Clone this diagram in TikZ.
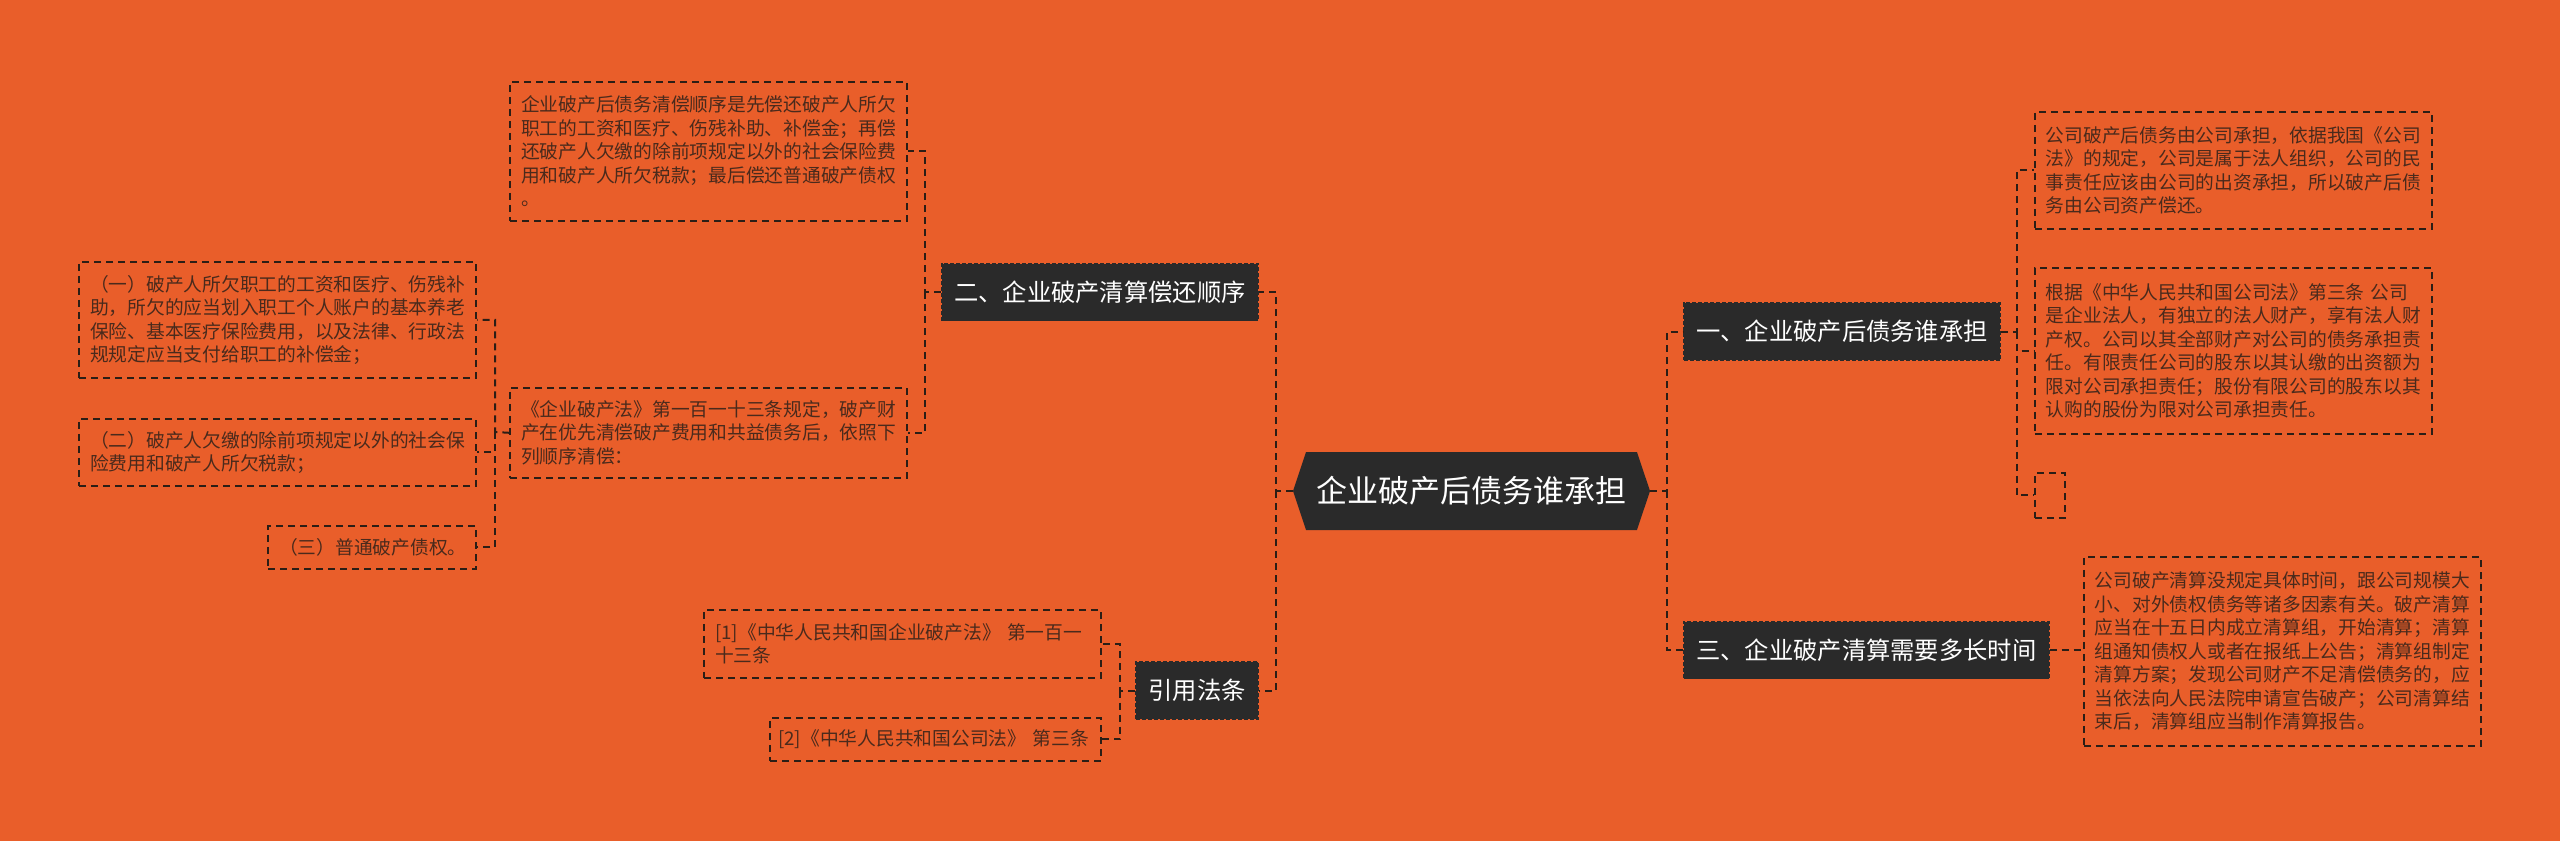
\documentclass[tikz,border=0pt]{standalone}
\usepackage{fontspec}
\setmainfont{Noto Sans CJK SC}
\usetikzlibrary{shapes.symbols}
\definecolor{canvas}{HTML}{E95E2A}
\definecolor{topicdark}{HTML}{2A2A2A}
\definecolor{leafink}{HTML}{4A2A1C}
\definecolor{linkdark}{HTML}{2B1E16}

\tikzset{
  root/.style={shape=signal, signal to=west and east, signal pointer angle=143,
    fill=topicdark, text=white, font=\fontsize{31}{37}\selectfont,
    minimum width=357pt, minimum height=78pt, inner sep=0pt},
  topic/.style={fill=topicdark, draw=topicdark, line width=1.5pt, dash pattern=on 4pt off 2pt,
    text=white, font=\fontsize{24.3}{29}\selectfont,
    inner xsep=12.5pt, inner ysep=0pt, minimum height=57pt},
  leaf/.style={draw=linkdark, line width=1.6pt, dash pattern=on 7pt off 5pt,
    text=leafink, font=\fontsize{18.75}{23.5}\selectfont,
    inner xsep=11pt, inner ysep=0pt, text width=375pt, align=left},
  link/.style={draw=linkdark, line width=2pt, dash pattern=on 7pt off 5pt},
}

\begin{document}
\begin{tikzpicture}[x=1pt, y=-1pt]
    % Canvas
    \fill[canvas] (0,0) rectangle (2560,841);
    \useasboundingbox (0,0) rectangle (2560,841);

    % Root
    \node[root] (root) at (1471.5,491) {企业破产后债务谁承担};

    % Main topics
    \node[topic, anchor=west] (n1) at (1683,331.5) {一、企业破产后债务谁承担};
    \node[topic, anchor=east] (n2) at (1259,292) {二、企业破产清算偿还顺序};
    \node[topic, anchor=west] (n3) at (1683,650) {三、企业破产清算需要多长时间};
    \node[topic, anchor=east] (n4) at (1259,690.5) {引用法条};

    % Leaves of topic one
    \node[leaf, anchor=north west, minimum height=117pt] (a1) at (2034,111)
      {公司破产后债务由公司承担，依据我国《公司\\法》的规定，公司是属于法人组织，公司的民\\事责任应该由公司的出资承担，所以破产后债\\务由公司资产偿还。};
    \node[leaf, anchor=north west, minimum height=166pt] (a2) at (2034,267)
      {根据《中华人民共和国公司法》第三条 公司\\是企业法人，有独立的法人财产，享有法人财\\产权。公司以其全部财产对公司的债务承担责\\任。有限责任公司的股东以其认缴的出资额为\\限对公司承担责任；股份有限公司的股东以其\\认购的股份为限对公司承担责任。};
    \node[leaf, anchor=north west, text width=8pt, minimum height=45pt] (a3) at (2034,472) {};

    % Leaf of topic three
    \node[leaf, anchor=north west, minimum height=189pt] (c1) at (2083,556)
      {公司破产清算没规定具体时间，跟公司规模大\\小、对外债权债务等诸多因素有关。破产清算\\应当在十五日内成立清算组，开始清算；清算\\组通知债权人或者在报纸上公告；清算组制定\\清算方案；发现公司财产不足清偿债务的，应\\当依法向人民法院申请宣告破产；公司清算结\\束后，清算组应当制作清算报告。};

    % Leaves of topic two
    \node[leaf, anchor=north east, minimum height=139pt] (b1) at (908,81)
      {企业破产后债务清偿顺序是先偿还破产人所欠\\职工的工资和医疗、伤残补助、补偿金；再偿\\还破产人欠缴的除前项规定以外的社会保险费\\用和破产人所欠税款；最后偿还普通破产债权\\。};
    \node[leaf, anchor=north east, minimum height=90pt] (b2) at (908,387)
      {《企业破产法》第一百一十三条规定，破产财\\产在优先清偿破产费用和共益债务后，依照下\\列顺序清偿：};
    \node[leaf, anchor=north east, minimum height=116pt] (b21) at (477,261)
      {（一）破产人所欠职工的工资和医疗、伤残补\\助，所欠的应当划入职工个人账户的基本养老\\保险、基本医疗保险费用，以及法律、行政法\\规规定应当支付给职工的补偿金；};
    \node[leaf, anchor=north east, minimum height=67pt] (b22) at (477,418)
      {（二）破产人欠缴的除前项规定以外的社会保\\险费用和破产人所欠税款；};
    \node[leaf, anchor=north east, text width=186pt, minimum height=43pt] (b23) at (477,525)
      {（三）普通破产债权。};

    % Cited laws
    \node[leaf, anchor=north east, minimum height=68pt] (r1) at (1102,609)
      {[1]《中华人民共和国企业破产法》 第一百一\\十三条};
    \node[leaf, anchor=north east, text width=315pt, inner xsep=8pt, minimum height=43pt] (r2) at (1102,717)
      {\mbox{[2]《中华人民共和国公司法》 第三条}};

    % Links from root
    \coordinate (jR) at (1667,491);
    \coordinate (jL) at (1276,491);
    \draw[link] (root.east) -- (jR) |- (n1.west);
    \draw[link] (jR) |- (n3.west);
    \draw[link] (root.west) -- (jL) |- (n2.east);
    \draw[link] (jL) |- (n4.east);

    % Links of topic one and three
    \coordinate (j1) at (2017,331.5);
    \draw[link] (n1.east) -- (j1) |- (a1.west);
    \draw[link] (j1) |- (a2.west);
    \draw[link] (j1) |- (a3.west);
    \draw[link] (n3.east) -- (n3.east -| c1.west);

    % Links of topic two
    \coordinate (j2) at (925,292);
    \draw[link] (n2.west) -- (j2) |- (b1.east);
    \draw[link] (j2) |- (b2.east);
    \coordinate (j3) at (495,432);
    \draw[link] (b2.west) -- (j3) |- (b21.east);
    \draw[link] (j3) |- (b22.east);
    \draw[link] (j3) |- (b23.east);

    % Links of cited laws
    \coordinate (j4) at (1120,690.5);
    \draw[link] (n4.west) -- (j4) |- (r1.east);
    \draw[link] (j4) |- (r2.east);
\end{tikzpicture}
\end{document}
